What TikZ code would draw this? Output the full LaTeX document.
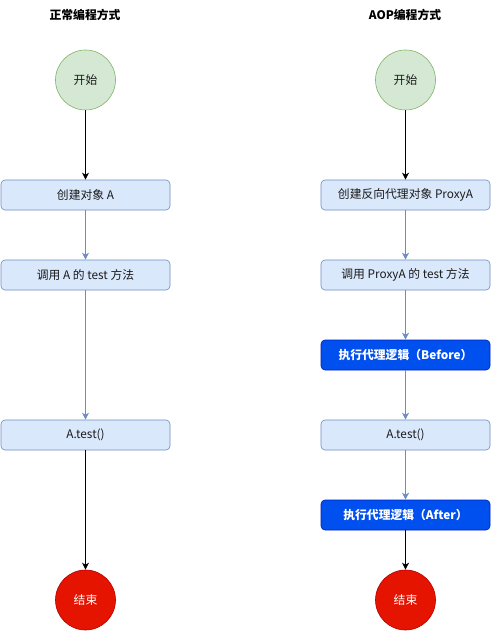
\documentclass[tikz,border=0pt]{standalone}
\usepackage{fontspec}
\setmainfont{Noto Sans CJK SC}
\usetikzlibrary{arrows.meta}
\definecolor{lbfill}{HTML}{DAE8FC}
\definecolor{lbline}{HTML}{6C8EBF}
\definecolor{gfill}{HTML}{D5E8D4}
\definecolor{gline}{HTML}{82B366}
\definecolor{dbfill}{HTML}{0050EF}
\definecolor{dbline}{HTML}{001DBC}
\definecolor{rfill}{HTML}{E51400}
\definecolor{rline}{HTML}{B20000}
\definecolor{txt}{HTML}{1A1A1A}
\tikzset{
  x=1pt, y=-1pt,
  every node/.style={font=\fontsize{11.8}{14}\selectfont, text=txt},
  startnode/.style={circle, draw=gline, fill=gfill, minimum size=60pt, inner sep=0pt, line width=0.6pt},
  endnode/.style={circle, draw=rline, fill=rfill, minimum size=60pt, inner sep=0pt, line width=0.6pt, text=white},
  lbox/.style={rectangle, rounded corners=4pt, draw=lbline, fill=lbfill, minimum width=169pt, minimum height=30pt, inner sep=0pt, line width=0.6pt},
  dbox/.style={rectangle, rounded corners=4pt, draw=dbline, fill=dbfill, minimum width=169pt, minimum height=30pt, inner sep=0pt, line width=0.6pt, text=white, font=\fontsize{11.8}{14}\selectfont\bfseries},
  title/.style={font=\fontsize{11.8}{14}\selectfont\bfseries, text=black},
  blk/.style={draw=black, line width=0.8pt, -{Stealth[length=7pt,width=7pt,inset=2pt]}},
  blu/.style={draw=lbline, line width=0.8pt, -{Stealth[length=7pt,width=7pt,inset=2pt]}},
}
\begin{document}
\begin{tikzpicture}
\useasboundingbox (0,0) rectangle (491,631);
% left column
\node[title] (tl) at (85,15) {正常编程方式};
\node[startnode] (ls) at (85.5,80) {开始};
\node[lbox] (l1) at (85.5,195) {创建对象 A};
\node[lbox] (l2) at (85.5,275) {调用 A 的 test 方法};
\node[lbox] (l3) at (85.5,435) {A.test()};
\node[endnode] (le) at (85.5,600) {结束};
\draw[blk] (ls) -- (l1);
\draw[blu] (l1) -- (l2);
\draw[blu] (l2) -- (l3);
\draw[blk] (l3) -- (le);
% right column
\node[title] (tr) at (405,15) {AOP编程方式};
\node[startnode] (rs) at (405.5,80) {开始};
\node[lbox] (r1) at (405.5,195) {创建反向代理对象 ProxyA};
\node[lbox] (r2) at (405.5,275) {调用 ProxyA 的 test 方法};
\node[dbox] (r3) at (405.5,355) {执行代理逻辑（Before）};
\node[lbox] (r4) at (405.5,435) {A.test()};
\node[dbox] (r5) at (405.5,515) {执行代理逻辑（After）};
\node[endnode] (re) at (405.5,600) {结束};
\draw[blk] (rs) -- (r1);
\draw[blu] (r1) -- (r2);
\draw[blu] (r2) -- (r3);
\draw[blu] (r3) -- (r4);
\draw[blu] (r4) -- (r5);
\draw[blk] (r5) -- (re);
\end{tikzpicture}
\end{document}
